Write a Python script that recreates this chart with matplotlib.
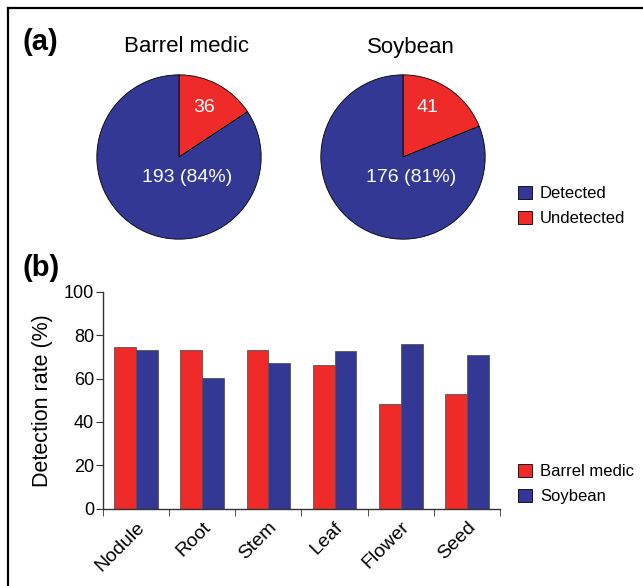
import numpy as np
import matplotlib
matplotlib.use('Agg')
import matplotlib.pyplot as plt
from matplotlib.patches import Patch
from matplotlib.lines import Line2D

plt.rcParams['font.family'] = ['Liberation Sans', 'DejaVu Sans']

# 饼图数据
pie_titles = ['Barrel medic', 'Soybean']
detected = [193, 176]
undetected = [36, 41]

# 柱状图数据
tissues = ['Nodule', 'Root', 'Stem', 'Leaf', 'Flower', 'Seed']
medic_rate = [74.5, 73.0, 73.0, 66.1, 48.2, 52.9]
soybean_rate = [73.0, 60.4, 67.3, 72.5, 75.9, 70.8]

RED = '#ee2b29'
BLUE = '#333895'

W, H = 643, 586
fig = plt.figure(figsize=(W / 100, H / 100), dpi=100)


def px_axes(x0, y0, x1, y1):
    # 像素坐标 (左上原点) 转换为 figure 坐标
    return fig.add_axes([x0 / W, 1 - y1 / H, (x1 - x0) / W, (y1 - y0) / H])


# 外框 (上边和左边)
fig.add_artist(Line2D([7.5 / W, 1], [1 - 7.5 / H, 1 - 7.5 / H], color='black', lw=1.6,
                      transform=fig.transFigure))
fig.add_artist(Line2D([7.5 / W, 7.5 / W], [0, 1 - 7.5 / H], color='black', lw=1.6,
                      transform=fig.transFigure))

# 子图 (a): 饼图
centers = [179, 403]
r = 83
for i in range(2):
    cx = centers[i]
    ax = px_axes(cx - r, 157 - r, cx + r, 157 + r)
    vals = [undetected[i], detected[i]]
    ax.pie(vals, colors=[RED, BLUE], startangle=90, counterclock=False,
           wedgeprops=dict(edgecolor='black', linewidth=0.6))
    ax.set_xlim(-1.01, 1.01)
    ax.set_ylim(-1.01, 1.01)
    pct = round(detected[i] / (detected[i] + undetected[i]) * 100)
    ax.text(0.3, 0.6, str(undetected[i]), color='white', fontsize=14,
            ha='center', va='center')
    ax.text(0.1, -0.25, f'{detected[i]} ({pct}%)', color='white', fontsize=14,
            ha='center', va='center')
    fig.text((cx + 8) / W, 1 - 47 / H, pie_titles[i], fontsize=16,
             ha='center', va='center')

fig.text(22 / W, 1 - 42 / H, '(a)', fontsize=21, fontweight='bold',
         ha='left', va='center')
fig.text(22 / W, 1 - 268 / H, '(b)', fontsize=21, fontweight='bold',
         ha='left', va='center')

fig.legend(handles=[Patch(facecolor=BLUE, edgecolor='black', lw=0.6, label='Detected'),
                    Patch(facecolor=RED, edgecolor='black', lw=0.6, label='Undetected')],
           loc='center left', bbox_to_anchor=(510 / W, 1 - 206 / H), frameon=False,
           fontsize=12, handlelength=0.8, handleheight=0.8, handletextpad=0.5,
           labelspacing=0.6, borderpad=0)

# 子图 (b): 柱状图
ax = px_axes(103, 291.7, 500, 508.7)
x = np.arange(len(tissues))
bw = 0.33
ax.bar(x - bw / 2, medic_rate, bw, color=RED, edgecolor='#555555', linewidth=0.6)
ax.bar(x + bw / 2, soybean_rate, bw, color=BLUE, edgecolor='#555555', linewidth=0.6)
ax.set_xlim(-0.5, len(tissues) - 0.5)
ax.set_ylim(0, 100)
ax.set_yticks([0, 20, 40, 60, 80, 100])
ax.set_xticks(x)
ax.set_xticklabels(tissues, rotation=45, ha='right', rotation_mode='anchor', fontsize=14)
ax.set_xticks(np.arange(-0.5, len(tissues)), minor=True)
ax.tick_params(axis='x', which='major', length=0, pad=7)
ax.tick_params(axis='x', which='minor', length=5, direction='out', color='#333333')
ax.tick_params(axis='y', length=5, direction='out', labelsize=13, pad=1.5, color='#333333')
for s in ['top', 'right']:
    ax.spines[s].set_visible(False)
for s in ['left', 'bottom']:
    ax.spines[s].set_color('#333333')
    ax.spines[s].set_linewidth(1.0)
ax.set_ylabel('Detection rate (%)', fontsize=15.5, labelpad=8)

fig.legend(handles=[Patch(facecolor=RED, edgecolor='black', lw=0.6, label='Barrel medic'),
                    Patch(facecolor=BLUE, edgecolor='black', lw=0.6, label='Soybean')],
           loc='center left', bbox_to_anchor=(510 / W, 1 - 484 / H), frameon=False,
           fontsize=12, handlelength=0.8, handleheight=0.8, handletextpad=0.5,
           labelspacing=0.6, borderpad=0)

fig.savefig('out.png', dpi=100)
